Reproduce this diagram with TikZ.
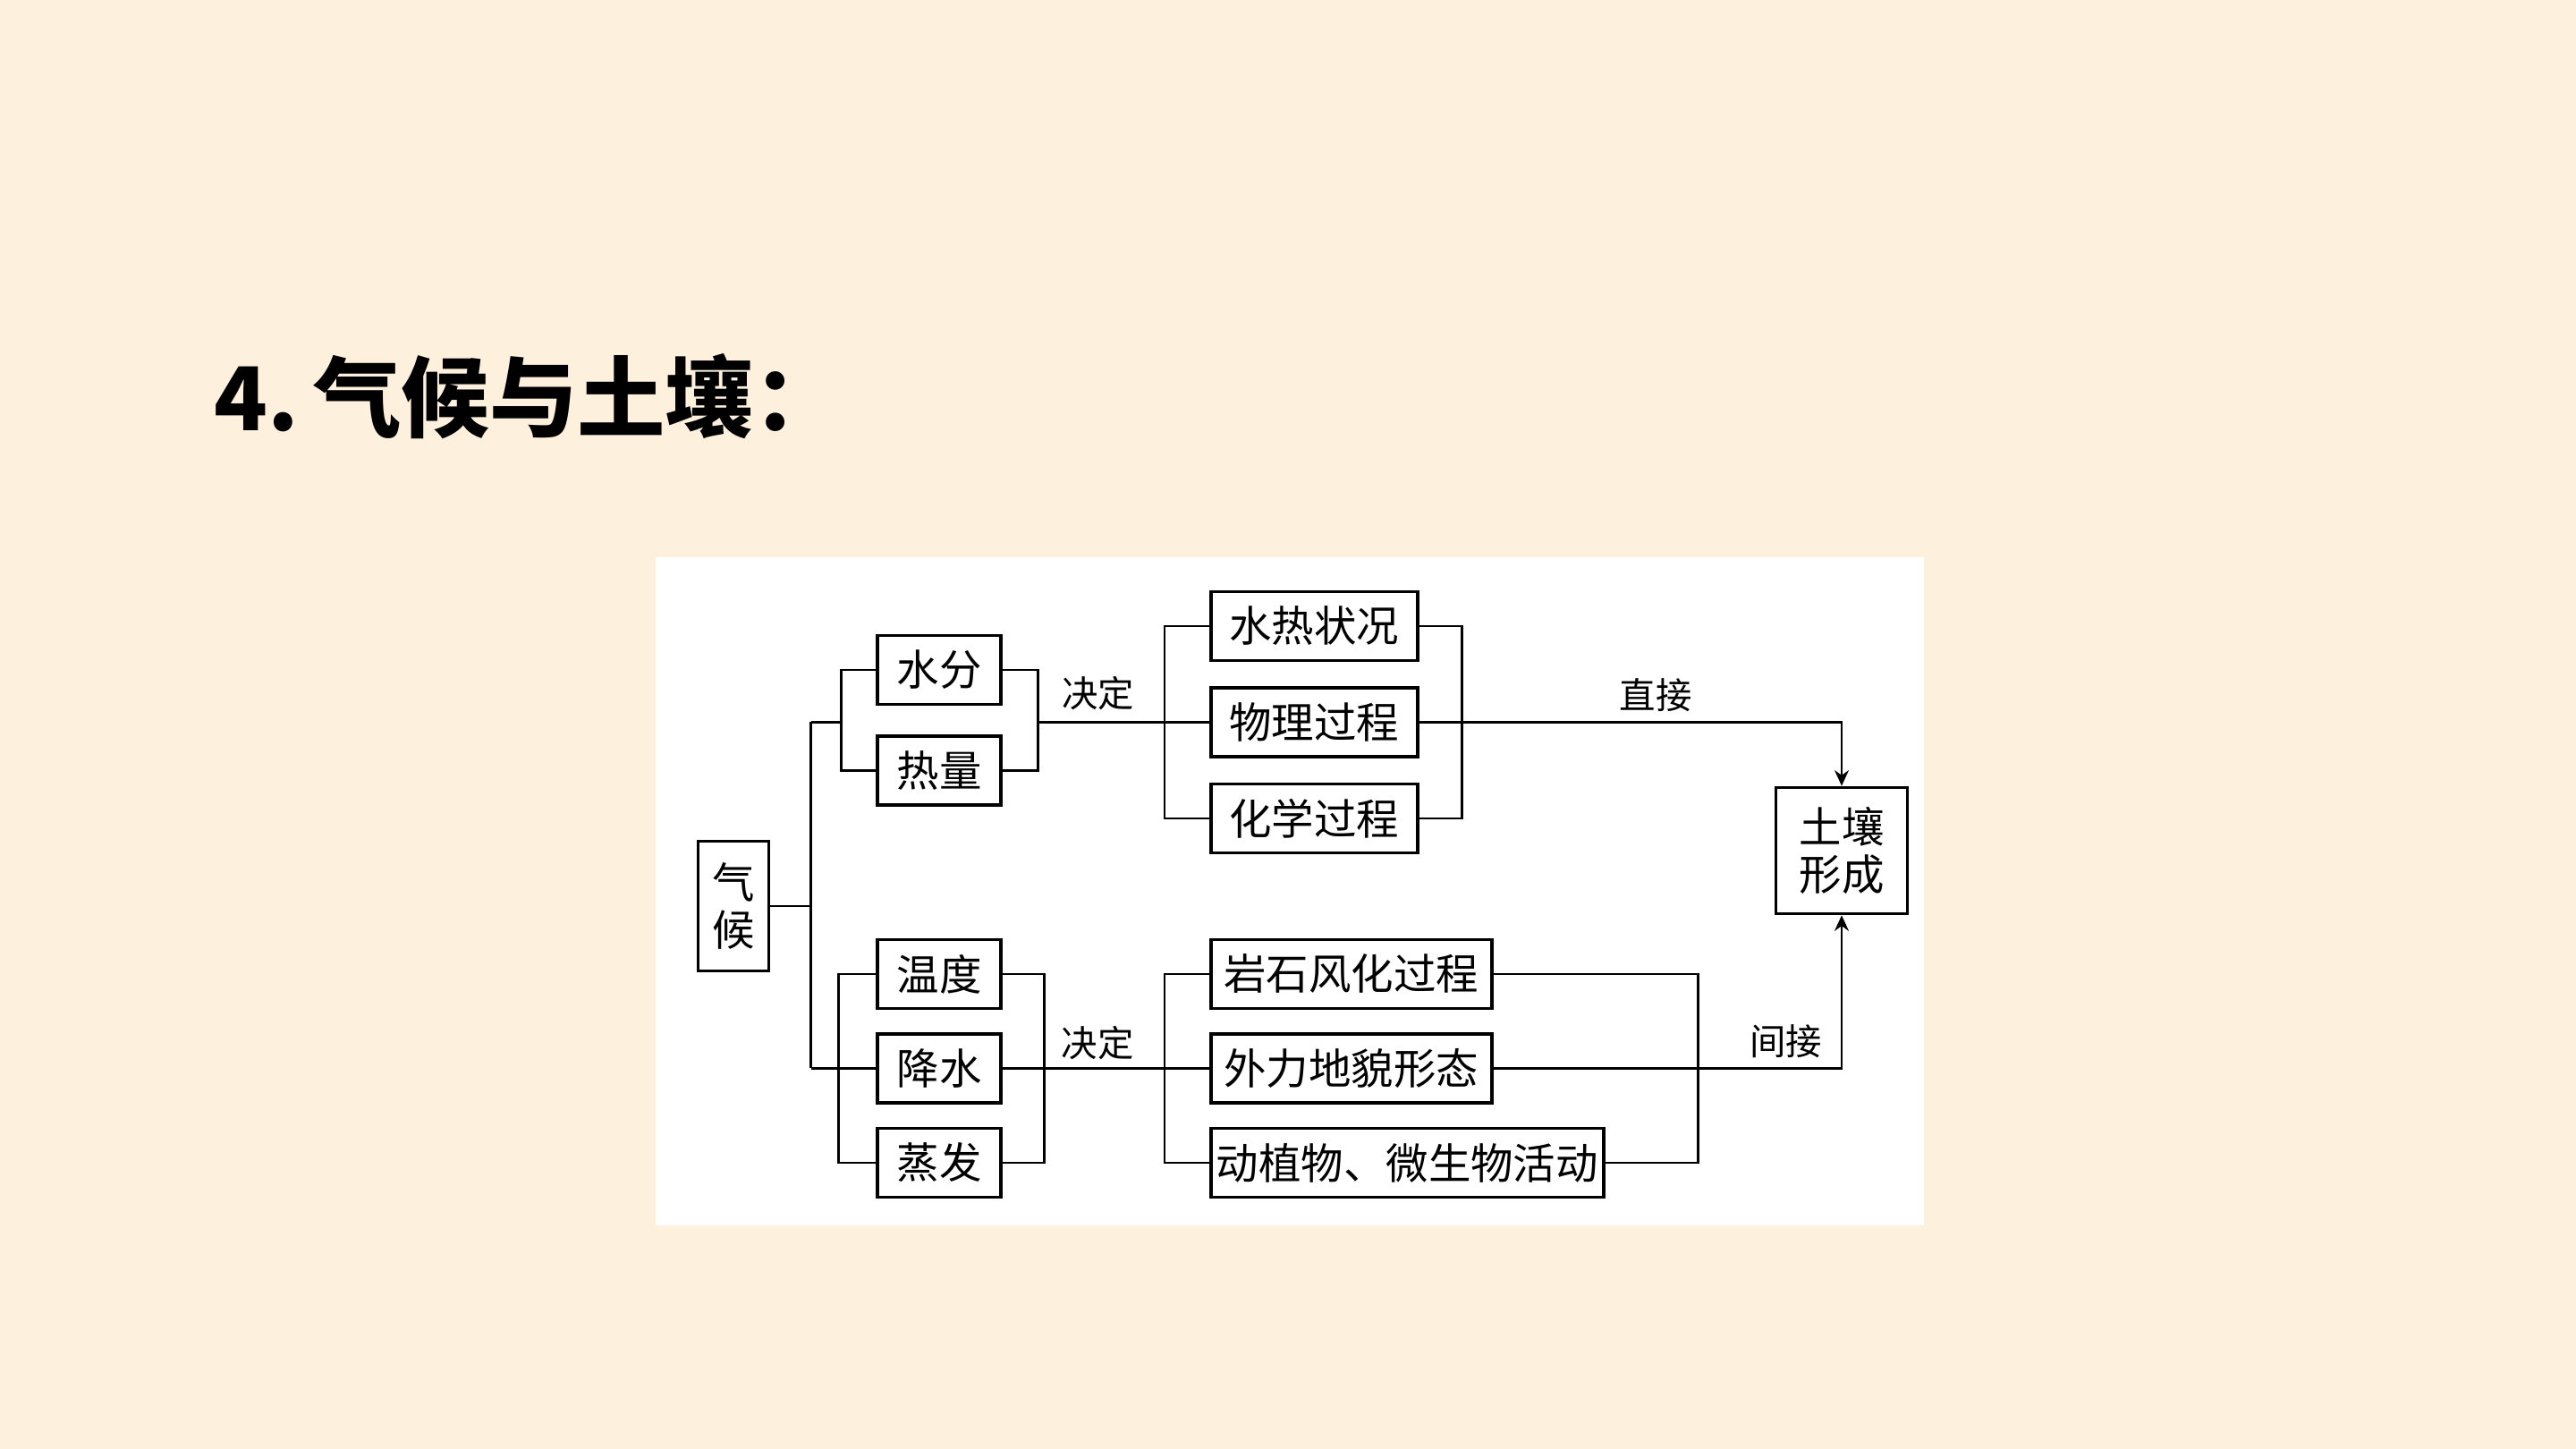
\documentclass[tikz,border=0pt]{standalone}
\usepackage{fontspec}
\newfontfamily\cjk{Noto Sans CJK SC}
\usepackage{xcolor}
\definecolor{paper}{HTML}{FDF0DC}
\usetikzlibrary{arrows.meta, positioning}

\begin{document}
\begin{tikzpicture}[
    node distance=0.25cm and 1cm,
    box/.style={rectangle, draw=black, line width=1pt, fill=white, minimum height=0.77cm, inner xsep=0.06cm, inner ysep=0pt, font=\cjk\fontsize{13.5}{15}\selectfont},
    tag/.style={font=\cjk\fontsize{11.5}{13}\selectfont, inner sep=0pt},
    link/.style={line width=0.8pt},
    arrow/.style={-{Stealth[length=5pt, width=4.5pt]}, line width=0.8pt},
]
    \useasboundingbox[fill=paper] (0,0) rectangle (28.8,16.2);
    \fill[white] (7.33,2.50) rectangle (21.51,9.97);

    \node[anchor=west, font=\cjk\bfseries\fontsize{28}{32}\selectfont] (title) at (2.27,11.77) {4.\,气候与土壤：};

    % left side
    \node[box, minimum width=0.79cm, minimum height=1.45cm, align=center, inner xsep=0pt] (climate) at (8.20,6.07) {气\\候};
    \node[box, minimum width=1.38cm] (water) at (10.50,8.71) {水分};
    \node[box, minimum width=1.38cm, below=0.32cm of water] (heat) {热量};
    \node[box, minimum width=1.38cm] (temp) at (10.50,5.31) {温度};
    \node[box, minimum width=1.38cm, below=of temp] (rain) {降水};
    \node[box, minimum width=1.38cm, below=of rain] (evap) {蒸发};

    % processes
    \node[box, minimum width=2.31cm, anchor=west] (hydro) at (13.52,9.20) {水热状况};
    \node[box, minimum width=2.31cm, below=0.27cm of hydro] (phys) {物理过程};
    \node[box, minimum width=2.31cm, below=0.27cm of phys] (chem) {化学过程};
    \node[box, minimum width=3.14cm, anchor=west] (rock) at (13.52,5.31) {岩石风化过程};
    \node[box, minimum width=3.14cm, below=of rock.south west, anchor=north west] (relief) {外力地貌形态};
    \node[box, minimum width=4.39cm, below=of relief.south west, anchor=north west] (biota) {动植物、微生物活动};

    \node[box, minimum width=1.47cm, minimum height=1.41cm, align=center] (soil) at (20.59,6.69) {土壤\\形成};

    % trunk
    \draw[link] (climate.east) -- ++(0.455,0) coordinate (fork);
    \draw[link] (fork |- phys) -- (fork |- rain);

    % upper branch
    \draw[link] (water.west) -- ++(-0.39,0) coordinate (wl) |- (heat.west);
    \draw[link] (fork |- phys) -- (wl |- phys);
    \draw[link] (water.east) -- ++(0.40,0) coordinate (wr) |- (heat.east);
    \draw[link] (wr |- phys) -- (phys.west) node[tag, pos=0.35, above=0.12cm] {决定};
    \draw[link] (hydro.west) -- ++(-0.50,0) |- (chem.west);
    \draw[link] (hydro.east) -- ++(0.48,0) |- (chem.east);
    \draw[arrow] (phys.east) -| (soil.north) node[tag, pos=0.28, above=0.1cm] {直接};

    % lower branch
    \draw[link] (temp.west) -- ++(-0.42,0) |- (evap.west);
    \draw[link] (fork |- rain) -- (rain.west);
    \draw[link] (temp.east) -- ++(0.47,0) |- (evap.east);
    \draw[link] (rain.east) -- (relief.west) node[tag, pos=0.46, above=0.08cm] {决定};
    \draw[link] (rock.west) -- ++(-0.50,0) |- (biota.west);
    \draw[link] (rock.east) -- ++(2.29,0) |- (biota.east);
    \draw[arrow] (relief.east) -| (soil.south) node[tag, pos=0.42, above=0.1cm] {间接};
\end{tikzpicture}
\end{document}
